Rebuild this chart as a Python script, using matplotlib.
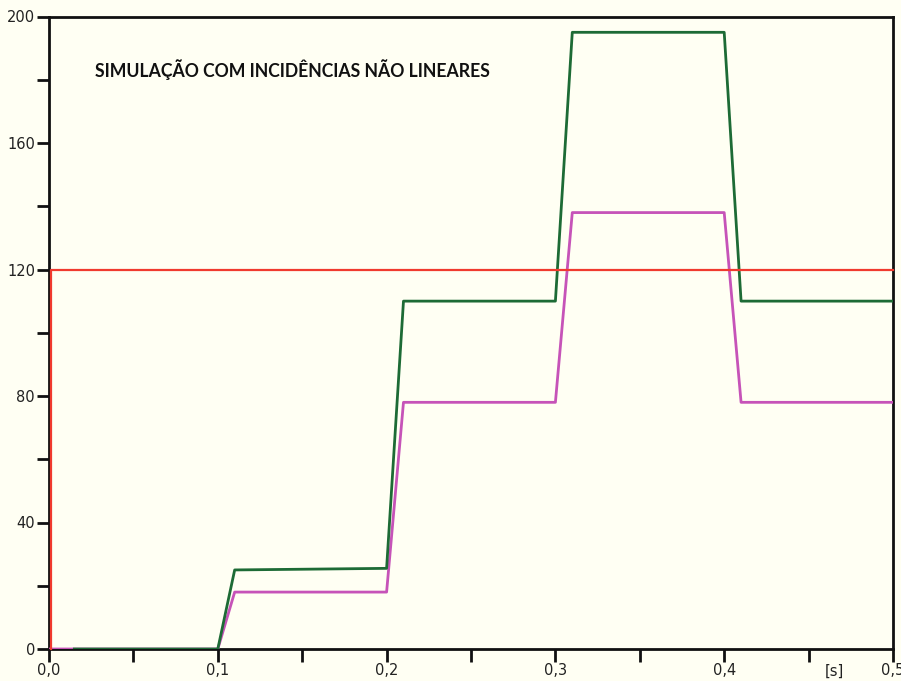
import matplotlib
matplotlib.use("Agg")
import matplotlib.pyplot as plt
from matplotlib.ticker import MultipleLocator, FuncFormatter

# Data
red_t = [0.001, 0.001, 0.5]
red_v = [0, 120, 120]

green_t = [0.015, 0.10, 0.11, 0.20, 0.21, 0.30, 0.31, 0.40, 0.41, 0.50]
green_v = [0, 0, 25, 25.5, 110, 110, 195, 195, 110, 110]

magenta_t = [0.0, 0.10, 0.11, 0.20, 0.21, 0.30, 0.31, 0.40, 0.41, 0.50]
magenta_v = [0, 0, 18, 18, 78, 78, 138, 138, 78, 78]

title = "SIMULAÇÃO COM INCIDÊNCIAS NÃO LINEARES"
bg = "#fffff3"

fig = plt.figure(figsize=(9.01, 6.81), dpi=100, facecolor=bg)
ax = fig.add_axes([49/901, 1-649/681, (893-49)/901, (649-16.5)/681])
ax.set_facecolor(bg)

ax.plot(magenta_t, magenta_v, color="#c653b8", lw=2.0, zorder=3)
ax.plot(green_t, green_v, color="#1d6b35", lw=2.0, zorder=4)
ax.plot(red_t, red_v, color="#f03a2e", lw=1.6, zorder=5, clip_on=False)

ax.set_xlim(0, 0.5)
ax.set_ylim(0, 200)
ax.xaxis.set_major_locator(MultipleLocator(0.1))
ax.xaxis.set_minor_locator(MultipleLocator(0.05))
ax.yaxis.set_major_locator(MultipleLocator(40))
ax.yaxis.set_minor_locator(MultipleLocator(20))
ax.xaxis.set_major_formatter(FuncFormatter(lambda v, p: f"{v:.1f}".replace(".", ",")))
ax.yaxis.set_major_formatter(FuncFormatter(lambda v, p: f"{int(round(v))}"))

for s in ax.spines.values():
    s.set_linewidth(2.0)
    s.set_color("#111111")
    s.set_zorder(2)

ax.tick_params(axis="both", which="both", direction="out", width=2, color="#111111",
               labelsize=10.5, labelcolor="#222222")
ax.tick_params(axis="both", which="major", length=9)
ax.tick_params(axis="both", which="minor", length=9)
ax.tick_params(axis="y", pad=1)
ax.tick_params(axis="x", pad=1)
for lab in ax.get_xticklabels() + ax.get_yticklabels():
    lab.set_fontfamily("DejaVu Sans")

ax.text(0.465, -0.024, "[s]", transform=ax.get_xaxis_transform(), ha="center", va="top",
        fontsize=10.5, color="#222222")

ax.text(95/901, 1-70/681, title, transform=fig.transFigure, ha="left", va="center",
        fontsize=12.7, fontweight="bold", fontfamily="Lato",
        color="#111111")

fig.savefig("out.png", dpi=100, facecolor=bg)
